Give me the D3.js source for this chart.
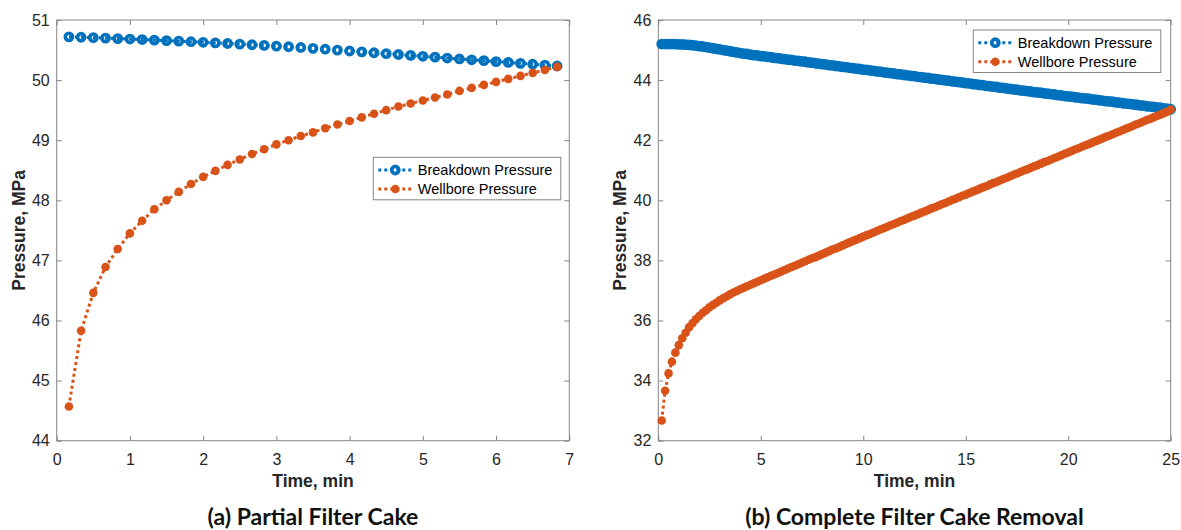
<!DOCTYPE html>
<html>
<head>
<meta charset="utf-8">
<script src="https://cdn.jsdelivr.net/npm/d3@7"></script>
<style>
  body { margin: 0; background: #fff; }
  svg { display: block; font-family: "Liberation Sans", Arial, Helvetica, sans-serif; }
</style>
</head>
<body>
<svg id="fig" width="1181" height="530"></svg>
<script>
// Sampling interval of both simulations (10 s)
const timeStepMin = 1 / 6;

const seriesNames = ["Breakdown Pressure", "Wellbore Pressure"];
const captions = ["(a) Partial Filter Cake", "(b) Complete Filter Cake Removal"];
const xLabel = "Time, min";
const yLabel = "Pressure, MPa";

// (a) partial filter cake, MPa
const partialBreakdown = [
  50.720, 50.713, 50.706, 50.699, 50.691, 50.683, 50.675, 50.666, 50.657, 50.648,
  50.639, 50.629, 50.619, 50.609, 50.599, 50.588, 50.577, 50.566, 50.555, 50.543,
  50.528, 50.514, 50.499, 50.484, 50.470, 50.455, 50.440, 50.426, 50.411, 50.396,
  50.382, 50.367, 50.352, 50.338, 50.323, 50.308, 50.294, 50.279, 50.264, 50.250,
  50.235
];
const partialWellbore = [
  44.57, 45.83, 46.46, 46.89, 47.19, 47.45, 47.66, 47.85, 48.00, 48.14,
  48.27, 48.39, 48.49, 48.59, 48.68, 48.77, 48.85, 48.93, 49.00, 49.07,
  49.13, 49.20, 49.26, 49.32, 49.38, 49.44, 49.50, 49.56, 49.61, 49.66,
  49.71, 49.76, 49.82, 49.87, 49.92, 49.97, 50.02, 50.07, 50.12, 50.17,
  50.22
];

// (b) complete filter cake removal, MPa
const removalBreakdown = [
  45.20, 45.20, 45.20, 45.20, 45.20, 45.19,
  45.19, 45.18, 45.17, 45.16, 45.15, 45.13,
  45.12, 45.10, 45.08, 45.06, 45.04, 45.02,
  45.00, 44.98, 44.96, 44.94, 44.92, 44.90,
  44.88, 44.87, 44.85, 44.83, 44.82, 44.80,
  44.79, 44.77, 44.76, 44.74, 44.73, 44.71,
  44.70, 44.68, 44.67, 44.65, 44.64, 44.62,
  44.61, 44.59, 44.58, 44.56, 44.55, 44.53,
  44.52, 44.50, 44.49, 44.47, 44.46, 44.44,
  44.43, 44.41, 44.40, 44.38, 44.37, 44.35,
  44.34, 44.32, 44.31, 44.29, 44.28, 44.26,
  44.25, 44.23, 44.22, 44.20, 44.19, 44.17,
  44.16, 44.14, 44.13, 44.11, 44.10, 44.08,
  44.07, 44.05, 44.04, 44.02, 44.01, 43.99,
  43.98, 43.96, 43.95, 43.93, 43.92, 43.90,
  43.89, 43.87, 43.86, 43.84, 43.83, 43.81,
  43.80, 43.78, 43.77, 43.75, 43.74, 43.72,
  43.71, 43.69, 43.68, 43.66, 43.65, 43.63,
  43.62, 43.60, 43.59, 43.58, 43.56, 43.55,
  43.53, 43.52, 43.50, 43.49, 43.47, 43.46,
  43.45, 43.43, 43.42, 43.40, 43.39, 43.38,
  43.36, 43.35, 43.33, 43.32, 43.30, 43.29,
  43.28, 43.26, 43.25, 43.23, 43.22, 43.21,
  43.19, 43.18, 43.16, 43.15, 43.13, 43.12,
  43.11, 43.09, 43.08, 43.06, 43.05, 43.03
];
const removalWellbore = [
  32.67, 33.66, 34.24, 34.63, 34.93, 35.18,
  35.41, 35.59, 35.77, 35.91, 36.04, 36.15,
  36.26, 36.34, 36.44, 36.52, 36.59, 36.67,
  36.74, 36.80, 36.87, 36.93, 36.98, 37.04,
  37.09, 37.14, 37.19, 37.24, 37.29, 37.34,
  37.39, 37.44, 37.49, 37.53, 37.58, 37.63,
  37.68, 37.73, 37.78, 37.82, 37.87, 37.92,
  37.97, 38.02, 38.07, 38.11, 38.16, 38.21,
  38.26, 38.31, 38.36, 38.40, 38.45, 38.50,
  38.55, 38.60, 38.65, 38.69, 38.74, 38.79,
  38.84, 38.88, 38.93, 38.98, 39.03, 39.07,
  39.12, 39.17, 39.21, 39.26, 39.31, 39.35,
  39.40, 39.45, 39.49, 39.54, 39.59, 39.63,
  39.68, 39.73, 39.77, 39.82, 39.87, 39.91,
  39.96, 40.01, 40.05, 40.10, 40.15, 40.19,
  40.24, 40.29, 40.33, 40.38, 40.43, 40.47,
  40.52, 40.57, 40.61, 40.66, 40.71, 40.75,
  40.80, 40.85, 40.89, 40.94, 40.99, 41.03,
  41.08, 41.13, 41.17, 41.22, 41.27, 41.31,
  41.36, 41.41, 41.45, 41.50, 41.55, 41.59,
  41.64, 41.69, 41.73, 41.78, 41.83, 41.87,
  41.92, 41.97, 42.01, 42.06, 42.11, 42.15,
  42.20, 42.25, 42.29, 42.34, 42.39, 42.43,
  42.48, 42.53, 42.57, 42.62, 42.67, 42.71,
  42.76, 42.81, 42.85, 42.90, 42.95, 43.02
];

const partialXTicks = [0, 1, 2, 3, 4, 5, 6, 7];
const partialYTicks = [44, 45, 46, 47, 48, 49, 50, 51];
const removalXTicks = [0, 5, 10, 15, 20, 25];
const removalYTicks = [32, 34, 36, 38, 40, 42, 44, 46];

const colors = ["#0072BD", "#D95319"];
const axisColor = "#858585";
const textColor = "#262626";

const panels = [
  {
    series: [partialBreakdown, partialWellbore],
    xDomain: [0, 7], yDomain: [44, 51],
    xTicks: partialXTicks, yTicks: partialYTicks,
    caption: captions[0],
    box: { l: 56.7, t: 20, r: 569.3, b: 440.7 },
    legend: { x: 373.3, y: 157.3 },
    yTitleX: 25
  },
  {
    series: [removalBreakdown, removalWellbore],
    xDomain: [0, 25], yDomain: [32, 46],
    xTicks: removalXTicks, yTicks: removalYTicks,
    caption: captions[1],
    box: { l: 658.3, t: 20, r: 1170.7, b: 440.7 },
    legend: { x: 973.3, y: 30 },
    yTitleX: 625.5
  }
];

const svg = d3.select("#fig");
const intFmt = d3.format("d");

// Marker drawing: open circle for breakdown, filled dot for wellbore
function drawMarker(sel, idx) {
  if (idx === 0) {
    sel.attr("r", 3.6).attr("fill", "none")
      .attr("stroke", colors[0]).attr("stroke-width", 3.6);
  } else {
    sel.attr("r", 4.3).attr("fill", colors[1]).attr("stroke", "none");
  }
}

panels.forEach(p => {
  const { l, t, r, b } = p.box;
  const x = d3.scaleLinear().domain(p.xDomain).range([l, r]);
  const y = d3.scaleLinear().domain(p.yDomain).range([b, t]);
  const g = svg.append("g");

  const styleAxis = sel => {
    sel.select(".domain").remove();
    sel.selectAll(".tick line").attr("stroke", axisColor).attr("stroke-width", 1);
    sel.selectAll(".tick text").attr("fill", textColor)
      .style("font-size", "16px").style("font-family", "'Liberation Sans', Arial, sans-serif");
  };

  g.append("g").attr("transform", `translate(0,${b})`)
    .call(d3.axisBottom(x).tickValues(p.xTicks).tickFormat(intFmt)
      .tickSizeInner(-5).tickSizeOuter(0).tickPadding(12.5))
    .call(styleAxis);
  g.append("g").attr("transform", `translate(0,${t})`)
    .call(d3.axisTop(x).tickValues(p.xTicks).tickSizeInner(-5).tickSizeOuter(0).tickFormat(() => ""))
    .call(styleAxis);
  g.append("g").attr("transform", `translate(${l},0)`)
    .call(d3.axisLeft(y).tickValues(p.yTicks).tickFormat(intFmt)
      .tickSizeInner(-5).tickSizeOuter(0).tickPadding(7))
    .call(styleAxis);
  g.append("g").attr("transform", `translate(${r},0)`)
    .call(d3.axisRight(y).tickValues(p.yTicks).tickSizeInner(-5).tickSizeOuter(0).tickFormat(() => ""))
    .call(styleAxis);

  g.append("rect")
    .attr("x", l).attr("y", t).attr("width", r - l).attr("height", b - t)
    .attr("fill", "none").attr("stroke", axisColor).attr("stroke-width", 1);

  // Curves: dotted line with markers at every sample
  const line = d3.line()
    .x((d, i) => x((i + 1) * timeStepMin))
    .y(d => y(d));

  p.series.forEach((vals, si) => {
    const sg = g.append("g");
    sg.append("path").datum(vals)
      .attr("d", line).attr("fill", "none")
      .attr("stroke", colors[si]).attr("stroke-width", 3)
      .attr("stroke-dasharray", "3,3");
    sg.selectAll("circle").data(vals).join("circle")
      .attr("cx", (d, i) => x((i + 1) * timeStepMin))
      .attr("cy", d => y(d))
      .call(drawMarker, si);
  });

  // Axis titles
  g.append("text")
    .attr("x", (l + r) / 2).attr("y", 487)
    .attr("text-anchor", "middle").attr("fill", textColor)
    .style("font-size", "17.5px").style("font-weight", "bold")
    .text(xLabel);
  g.append("text")
    .attr("transform", `translate(${p.yTitleX},${(t + b) / 2}) rotate(-90)`)
    .attr("text-anchor", "middle").attr("fill", textColor)
    .style("font-size", "17.5px").style("font-weight", "bold")
    .text(yLabel);

  // Caption below the panel
  g.append("text")
    .attr("x", (l + r) / 2).attr("y", 525)
    .attr("text-anchor", "middle").attr("fill", "#111")
    .style("font-family", "Lato, 'Open Sans', sans-serif")
    .style("font-size", "23px").style("font-weight", "bold")
    .text(p.caption);

  // Legend
  const lg = g.append("g").attr("transform", `translate(${p.legend.x},${p.legend.y})`);
  lg.append("rect").attr("width", 187.5).attr("height", 42.5)
    .attr("fill", "#fff").attr("stroke", axisColor).attr("stroke-width", 1);
  seriesNames.forEach((name, si) => {
    const cy = 12.7 + si * 19;
    lg.append("line").attr("x1", 5).attr("x2", 38).attr("y1", cy).attr("y2", cy)
      .attr("stroke", colors[si]).attr("stroke-width", 3)
      .attr("stroke-dasharray", "3,3");
    lg.append("circle").attr("cx", 22).attr("cy", cy).call(drawMarker, si);
    lg.append("text").attr("x", 44.5).attr("y", cy).attr("dy", "0.35em")
      .attr("fill", "#000").style("font-size", "14.5px").text(name);
  });
});
</script>
</body>
</html>
